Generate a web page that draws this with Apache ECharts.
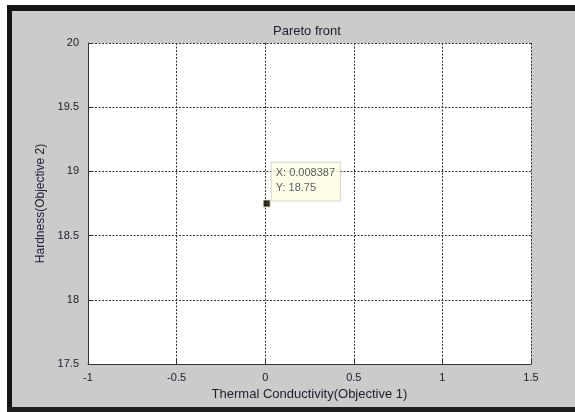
<!DOCTYPE html>
<html>
<head>
<meta charset="utf-8">
<title>Pareto front</title>
<script src="https://cdn.jsdelivr.net/npm/echarts@6/dist/echarts.min.js"></script>
<style>
  html, body { margin: 0; padding: 0; background: #ffffff; }
  #chart { width: 575px; height: 412px; }
</style>
</head>
<body>
<div id="chart"></div>
<script>
// Pareto front data (single non-dominated solution)
const objective1 = [0.008387];   // Thermal Conductivity
const objective2 = [18.75];      // Hardness

// Axis ranges and tick steps
const xTicks = [-1, -0.5, 0, 0.5, 1, 1.5];
const yTicks = [17.5, 18, 18.5, 19, 19.5, 20];

const titleText = 'Pareto front';
const xName = 'Thermal Conductivity(Objective 1)';
const yName = 'Hardness(Objective 2)';

const points = objective1.map((x, i) => [x, objective2[i]]);

const textColor = '#20202e';
const font = 'Liberation Sans, Arial, sans-serif';

const chart = echarts.init(document.getElementById('chart'), null, { renderer: 'canvas' });

const gridLine = { show: true, lineStyle: { color: '#333', width: 1, type: [2, 1.5] } };

chart.setOption({
  animation: false,
  backgroundColor: '#ffffff',
  graphic: [
    // figure window: grey panel with dark frame
    { type: 'rect', z: -10, shape: { x: 7, y: 5, width: 568, height: 407 }, style: { fill: '#cbcbcb' } },
    { type: 'rect', z: -9, shape: { x: 7, y: 5, width: 5, height: 407 }, style: { fill: '#141414' } },
    { type: 'rect', z: -9, shape: { x: 7, y: 5, width: 568, height: 6 }, style: { fill: '#141414' } },
    { type: 'rect', z: -9, shape: { x: 7, y: 407, width: 568, height: 5 }, style: { fill: '#1e1e1e' } }
  ],
  title: {
    text: titleText,
    left: 268,
    top: 20,
    textStyle: { fontFamily: font, fontSize: 13, fontWeight: 'normal', color: textColor }
  },
  grid: {
    left: 88, right: 44, top: 43, bottom: 48,
    show: true, backgroundColor: '#ffffff', borderWidth: 0
  },
  xAxis: {
    type: 'value',
    min: xTicks[0], max: xTicks[xTicks.length - 1], interval: 0.5,
    name: xName, nameLocation: 'middle', nameGap: 20,
    nameTextStyle: { fontFamily: font, fontSize: 13, color: textColor },
    axisLine: { show: true, onZero: false, lineStyle: { color: '#333', width: 1 } },
    axisTick: { show: true, inside: true, length: 4, lineStyle: { color: '#333' } },
    axisLabel: { fontFamily: font, fontSize: 11, color: textColor, margin: 8,
      formatter: v => String(v) },
    splitLine: gridLine
  },
  yAxis: {
    type: 'value',
    min: yTicks[0], max: yTicks[yTicks.length - 1], interval: 0.5,
    name: yName, nameLocation: 'middle', nameGap: 39, nameRotate: 90,
    nameTextStyle: { fontFamily: font, fontSize: 12, color: textColor },
    axisLine: { show: true, onZero: false, lineStyle: { color: '#333', width: 1 } },
    axisTick: { show: true, inside: true, length: 4, lineStyle: { color: '#333' } },
    axisLabel: { fontFamily: font, fontSize: 11, color: textColor, margin: 9,
      formatter: v => String(v) },
    splitLine: gridLine
  },
  series: [{
    type: 'scatter',
    data: points,
    symbol: 'rect',
    symbolSize: 7,
    itemStyle: { color: '#000000', borderColor: '#e8e4b0', borderWidth: 1 },
    label: {
      show: true,
      position: [9, -37],
      align: 'left',
      verticalAlign: 'top',
      formatter: p => 'X: ' + p.value[0] + '\nY: ' + p.value[1],
      fontFamily: font,
      fontSize: 11,
      lineHeight: 15,
      color: '#30303f',
      backgroundColor: '#ffffe3',
      borderColor: '#cfcfc4',
      borderWidth: 1,
      padding: [3, 5, 5, 4]
    }
  }]
});
</script>
</body>
</html>
